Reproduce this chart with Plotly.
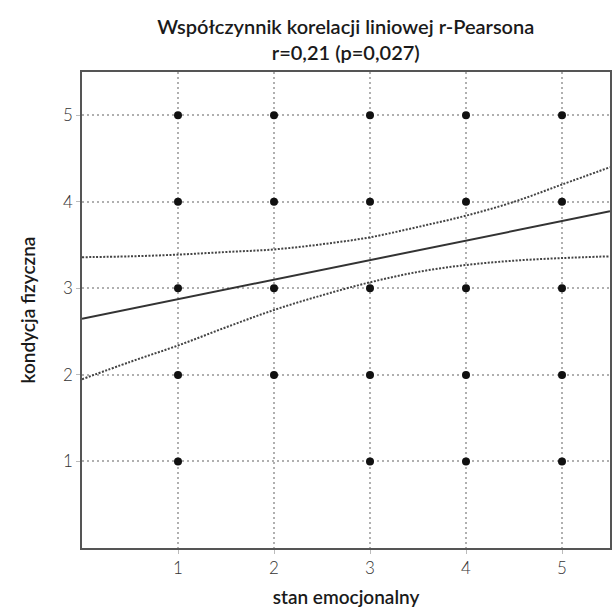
import plotly.graph_objects as go

# Observed points (stan emocjonalny, kondycja fizyczna)
pts_x = [1, 2, 3, 4, 5,
         1, 2, 3, 4, 5,
         1, 2, 3, 4, 5,
         1, 2, 3, 4, 5,
         1, 3, 4, 5]
pts_y = [5, 5, 5, 5, 5,
         4, 4, 4, 4, 4,
         3, 3, 3, 3, 3,
         2, 2, 2, 2, 2,
         1, 1, 1, 1]

# Regression line endpoints
reg_x = [0, 5.5]
reg_y = [2.65, 3.89]

# Confidence band
band_x = [0, 0.5, 1, 1.5, 2, 2.5, 3, 3.5, 4, 4.5, 5, 5.5]
band_upper = [3.36, 3.37, 3.39, 3.42, 3.45, 3.51, 3.59, 3.71, 3.84, 4.00, 4.20, 4.40]
band_lower = [1.95, 2.15, 2.34, 2.55, 2.75, 2.92, 3.07, 3.19, 3.27, 3.32, 3.35, 3.37]

tick_vals = [1, 2, 3, 4, 5]

FONT = "Lato"

fig = go.Figure()
fig.add_trace(go.Scatter(x=band_x, y=band_upper, mode="lines",
                         line=dict(color="#444444", width=2, dash="2px,1.5px", shape="spline"),
                         hoverinfo="skip"))
fig.add_trace(go.Scatter(x=band_x, y=band_lower, mode="lines",
                         line=dict(color="#444444", width=2, dash="2px,1.5px", shape="spline"),
                         hoverinfo="skip"))
fig.add_trace(go.Scatter(x=reg_x, y=reg_y, mode="lines",
                         line=dict(color="#333333", width=2)))
fig.add_trace(go.Scatter(x=pts_x, y=pts_y, mode="markers",
                         marker=dict(color="#111111", size=8)))

axis_common = dict(
    showgrid=True, gridcolor="#b0b0b0", griddash="1.5px,3.5px", gridwidth=1.5,
    showline=True, linecolor="#555555", linewidth=1.5, mirror=True,
    ticks="outside", ticklen=4, tickcolor="#bbbbbb",
    zeroline=False, tickvals=tick_vals, automargin=False,
    tickfont=dict(family=FONT, size=17, color="#333333", weight=300),
)

TITLE_FONT = dict(family=FONT, size=19, color="#1a1a1a", weight=600)

fig.update_layout(
    width=612, height=610,
    margin=dict(l=82, r=2, t=72, b=62),
    paper_bgcolor="white", plot_bgcolor="white",
    showlegend=False,
    title=dict(text="Współczynnik korelacji liniowej r-Pearsona<br>r=0,21 (p=0,027)",
               x=0.565, xanchor="center", y=1 - 34 / 610, yanchor="middle",
               yref="container", font=dict(TITLE_FONT, size=20)),
    xaxis=dict(range=[0, 5.5], title=dict(text="stan emocjonalny",
               font=TITLE_FONT, standoff=14), **axis_common),
    yaxis=dict(range=[0, 5.5], title=dict(text="kondycja fizyczna",
               font=TITLE_FONT, standoff=22), **axis_common),
)

fig.write_html("out.html", config={"displayModeBar": False},
               post_script="document.body.style.margin='0';document.body.style.overflow='hidden';")
